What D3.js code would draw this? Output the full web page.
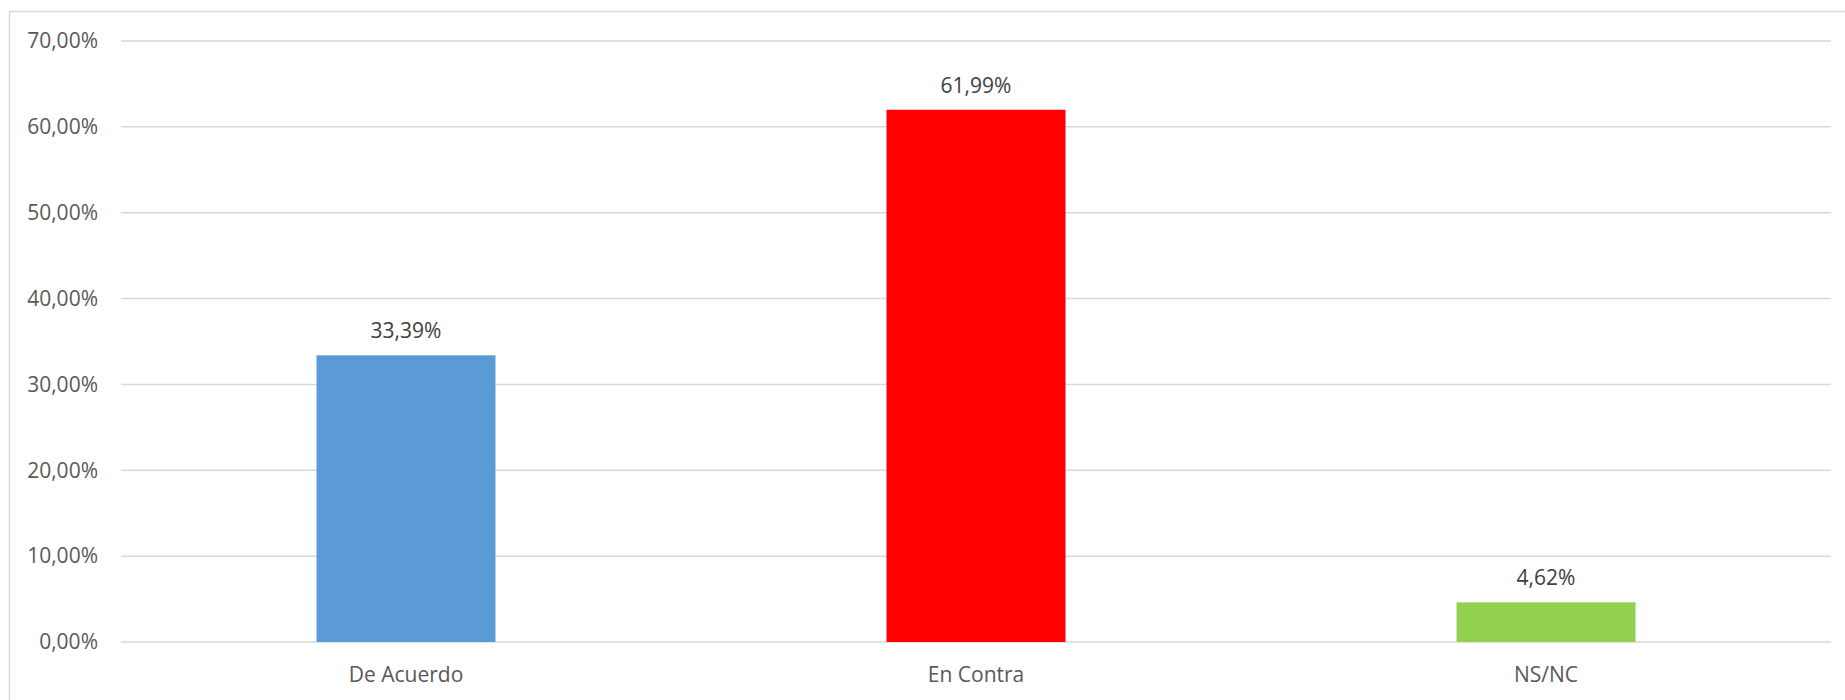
<!DOCTYPE html>
<html>
<head>
<meta charset="utf-8">
<script src="https://cdn.jsdelivr.net/npm/d3@7"></script>
<style>
  html, body { margin: 0; padding: 0; background: #fff; }
  svg { display: block; }
  text { font-family: "Open Sans", "Noto Sans", sans-serif; }
</style>
</head>
<body>
<svg id="chart" width="1845" height="700"></svg>
<script>
const categories = ["De Acuerdo", "En Contra", "NS/NC"];
const values = [33.39, 61.99, 4.62];
const colors = ["#5b9bd5", "#ff0000", "#92d050"];
const yTicks = [0, 10, 20, 30, 40, 50, 60, 70];

const fmt = v => v.toFixed(2).replace(".", ",") + "%";

const svg = d3.select("#chart");
const margin = { left: 121, right: 14, top: 41, bottom: 58 };
const W = 1845, H = 700;

// outer chart border
svg.append("rect")
  .attr("x", 9.5).attr("y", 11.5)
  .attr("width", W).attr("height", H)
  .attr("fill", "#fff").attr("stroke", "#d9d9d9").attr("stroke-width", 1.5);

const x = d3.scaleBand()
  .domain(categories)
  .range([margin.left, W - margin.right])
  .paddingInner(0.686)
  .paddingOuter(0.343);

const y = d3.scaleLinear()
  .domain([0, 70])
  .range([H - margin.bottom, margin.top]);

// gridlines
svg.append("g")
  .selectAll("line")
  .data(yTicks)
  .join("line")
  .attr("x1", margin.left).attr("x2", W - margin.right)
  .attr("y1", d => y(d)).attr("y2", d => y(d))
  .attr("stroke", "#d9d9d9").attr("stroke-width", 1.5);

// y axis labels
const yAxis = d3.axisLeft(y).tickValues(yTicks).tickFormat(fmt).tickSize(0).tickPadding(0);
const gy = svg.append("g").attr("transform", `translate(98,0)`).call(yAxis);
gy.select(".domain").remove();
gy.selectAll("text")
  .attr("font-family", "'Open Sans', sans-serif")
  .attr("font-size", 21).attr("fill", "#595959");

// bars
svg.append("g")
  .selectAll("rect")
  .data(values)
  .join("rect")
  .attr("x", (d, i) => x(categories[i]))
  .attr("width", x.bandwidth())
  .attr("y", d => y(d))
  .attr("height", d => y(0) - y(d))
  .attr("fill", (d, i) => colors[i]);

// data labels
svg.append("g")
  .selectAll("text")
  .data(values)
  .join("text")
  .attr("x", (d, i) => x(categories[i]) + x.bandwidth() / 2)
  .attr("y", d => y(d) - 17)
  .attr("text-anchor", "middle")
  .attr("font-size", 21)
  .attr("fill", "#404040")
  .text(d => fmt(d));

// x axis labels
const xAxis = d3.axisBottom(x).tickSize(0).tickPadding(0);
const gx = svg.append("g").attr("transform", `translate(0,${y(0)})`).call(xAxis);
gx.select(".domain").remove();
gx.selectAll("text")
  .attr("font-family", "'Open Sans', sans-serif")
  .attr("font-size", 21).attr("fill", "#595959")
  .attr("dy", null)
  .attr("y", 40);
</script>
</body>
</html>
